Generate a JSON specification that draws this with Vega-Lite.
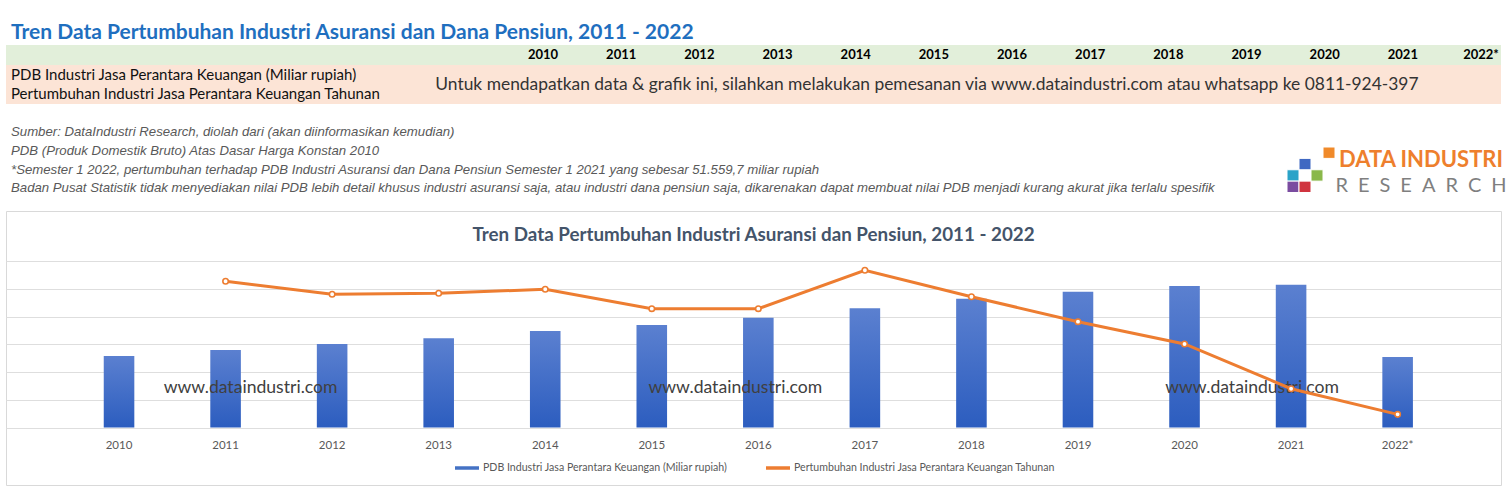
{
  "$schema": "https://vega.github.io/schema/vega-lite/v6.json",
  "padding": {"left": 5, "top": 22, "right": 0, "bottom": 0},
  "background": "#ffffff",
  "config": {"view": {"stroke": null}, "font": "Lato"},
  "datasets": {
    "utama": [
      {"tahun": "2010", "seri": "PDB Industri Jasa Perantara Keuangan (Miliar rupiah)", "nilai": 51600},
      {"tahun": "2011", "seri": "PDB Industri Jasa Perantara Keuangan (Miliar rupiah)", "nilai": 56000},
      {"tahun": "2012", "seri": "PDB Industri Jasa Perantara Keuangan (Miliar rupiah)", "nilai": 60300},
      {"tahun": "2013", "seri": "PDB Industri Jasa Perantara Keuangan (Miliar rupiah)", "nilai": 64400},
      {"tahun": "2014", "seri": "PDB Industri Jasa Perantara Keuangan (Miliar rupiah)", "nilai": 69700},
      {"tahun": "2015", "seri": "PDB Industri Jasa Perantara Keuangan (Miliar rupiah)", "nilai": 74000},
      {"tahun": "2016", "seri": "PDB Industri Jasa Perantara Keuangan (Miliar rupiah)", "nilai": 79300},
      {"tahun": "2017", "seri": "PDB Industri Jasa Perantara Keuangan (Miliar rupiah)", "nilai": 86100},
      {"tahun": "2018", "seri": "PDB Industri Jasa Perantara Keuangan (Miliar rupiah)", "nilai": 93000},
      {"tahun": "2019", "seri": "PDB Industri Jasa Perantara Keuangan (Miliar rupiah)", "nilai": 98100},
      {"tahun": "2020", "seri": "PDB Industri Jasa Perantara Keuangan (Miliar rupiah)", "nilai": 102200},
      {"tahun": "2021", "seri": "PDB Industri Jasa Perantara Keuangan (Miliar rupiah)", "nilai": 103100},
      {"tahun": "2022*", "seri": "PDB Industri Jasa Perantara Keuangan (Miliar rupiah)", "nilai": 50900},
      {"tahun": "2011", "seri": "Pertumbuhan Industri Jasa Perantara Keuangan Tahunan", "nilai": 8.56},
      {"tahun": "2012", "seri": "Pertumbuhan Industri Jasa Perantara Keuangan Tahunan", "nilai": 7.62},
      {"tahun": "2013", "seri": "Pertumbuhan Industri Jasa Perantara Keuangan Tahunan", "nilai": 7.69},
      {"tahun": "2014", "seri": "Pertumbuhan Industri Jasa Perantara Keuangan Tahunan", "nilai": 7.98},
      {"tahun": "2015", "seri": "Pertumbuhan Industri Jasa Perantara Keuangan Tahunan", "nilai": 6.58},
      {"tahun": "2016", "seri": "Pertumbuhan Industri Jasa Perantara Keuangan Tahunan", "nilai": 6.58},
      {"tahun": "2017", "seri": "Pertumbuhan Industri Jasa Perantara Keuangan Tahunan", "nilai": 9.35},
      {"tahun": "2018", "seri": "Pertumbuhan Industri Jasa Perantara Keuangan Tahunan", "nilai": 7.44},
      {"tahun": "2019", "seri": "Pertumbuhan Industri Jasa Perantara Keuangan Tahunan", "nilai": 5.64},
      {"tahun": "2020", "seri": "Pertumbuhan Industri Jasa Perantara Keuangan Tahunan", "nilai": 4.03},
      {"tahun": "2021", "seri": "Pertumbuhan Industri Jasa Perantara Keuangan Tahunan", "nilai": 0.80},
      {"tahun": "2022*", "seri": "Pertumbuhan Industri Jasa Perantara Keuangan Tahunan", "nilai": -1.05}
    ],
    "catatan": [
      {"catatan": "Sumber: DataIndustri Research, diolah dari (akan diinformasikan kemudian)"},
      {"catatan": "PDB (Produk Domestik Bruto) Atas Dasar Harga Konstan 2010"},
      {"catatan": "*Semester 1 2022, pertumbuhan terhadap PDB Industri Asuransi dan Dana Pensiun Semester 1 2021 yang sebesar 51.559,7 miliar rupiah"},
      {"catatan": "Badan Pusat Statistik tidak menyediakan nilai PDB lebih detail khusus industri asuransi saja, atau industri dana pensiun saja, dikarenakan dapat membuat nilai PDB menjadi kurang akurat jika terlalu spesifik"}
    ]
  },
  "bounds": "flush",
  "spacing": 0,
  "resolve": {"scale": {"color": "independent"}, "legend": {"color": "independent"}},
  "vconcat": [
    {
      "width": 1495,
      "height": 20,
      "view": {"fill": "#e2efda", "stroke": null},
      "title": {
        "text": "Tren Data Pertumbuhan Industri Asuransi dan Dana Pensiun, 2011 - 2022",
        "anchor": "start",
        "frame": "group",
        "font": "Lato",
        "fontSize": 21,
        "fontWeight": "bold",
        "color": "#1f6fbf",
        "offset": 2,
        "dx": 5
      },
      "data": {"name": "utama"},
      "transform": [{"filter": "datum.seri == 'PDB Industri Jasa Perantara Keuangan (Miliar rupiah)'"}],
      "mark": {"type": "text", "font": "Lato", "fontSize": 13, "fontWeight": "bold", "color": "#000000"},
      "encoding": {
        "x": {"field": "tahun", "type": "ordinal", "sort": null, "scale": {"type": "point", "range": [537, 1475], "padding": 0}, "axis": null},
        "text": {"field": "tahun"}
      }
    },
    {
      "width": 1495,
      "height": 39,
      "view": {"fill": "#fce4d6", "stroke": null},
      "layer": [
        {
          "data": {"values": [
            {"baris": "PDB Industri Jasa Perantara Keuangan (Miliar rupiah)"},
            {"baris": "Pertumbuhan Industri Jasa Perantara Keuangan Tahunan"}
          ]},
          "mark": {"type": "text", "align": "left", "dx": 5, "font": "Lato", "fontSize": 15, "color": "#111111"},
          "encoding": {
            "x": {"datum": 0, "type": "quantitative", "scale": {"domain": [0, 1]}, "axis": null},
            "y": {"field": "baris", "type": "nominal", "sort": null, "axis": null},
            "text": {"field": "baris"}
          }
        },
        {
          "data": {"values": [
            {"pesan": "Untuk mendapatkan data & grafik ini, silahkan melakukan pemesanan via www.dataindustri.com atau whatsapp ke 0811-924-397"}
          ]},
          "mark": {"type": "text", "font": "Lato", "fontSize": 17.4, "color": "#333333"},
          "encoding": {
            "x": {"datum": 0.616, "type": "quantitative"},
            "text": {"field": "pesan"}
          }
        }
      ]
    },
    {
      "width": 1495,
      "height": 107,
      "resolve": {"scale": {"x": "independent", "y": "independent"}},
      "layer": [
        {
          "data": {"name": "catatan"},
          "mark": {"type": "text", "align": "left", "dx": 5, "font": "Liberation Sans", "fontSize": 13.2, "fontStyle": "italic", "color": "#595959"},
          "encoding": {
            "x": {"datum": 0, "type": "quantitative", "scale": {"domain": [0, 1]}, "axis": null},
            "y": {"field": "catatan", "type": "nominal", "sort": null, "scale": {"type": "point", "range": [28.1, 84.3], "padding": 0}, "axis": null},
            "text": {"field": "catatan"}
          }
        },
        {
          "data": {"values": [
            {"kolom": "c3", "baris": "r0", "warna": "oranye"},
            {"kolom": "c1", "baris": "r1", "warna": "biru"},
            {"kolom": "c0", "baris": "r2", "warna": "tosca"},
            {"kolom": "c2", "baris": "r2", "warna": "hijau"},
            {"kolom": "c0", "baris": "r3", "warna": "ungu"},
            {"kolom": "c1", "baris": "r3", "warna": "merah"}
          ]},
          "mark": {"type": "rect", "stroke": "#ffffff", "strokeWidth": 1},
          "encoding": {
            "x": {"field": "kolom", "type": "nominal", "scale": {"type": "band", "domain": ["c0", "c1", "c2", "c3"], "range": [1281, 1329], "paddingInner": 0, "paddingOuter": 0}, "axis": null},
            "y": {"field": "baris", "type": "nominal", "scale": {"type": "band", "domain": ["r0", "r1", "r2", "r3"], "range": [43, 88.5], "paddingInner": 0, "paddingOuter": 0}, "axis": null},
            "color": {"field": "warna", "type": "nominal", "scale": {"domain": ["oranye", "biru", "tosca", "hijau", "ungu", "merah"], "range": ["#f08a2a", "#3f68c2", "#2aa3c8", "#8ab84a", "#7a4ca0", "#d0343f"]}, "legend": null}
          }
        },
        {
          "data": {"values": [
            {"teks": "DATA INDUSTRI", "peran": "merek"},
            {"teks": "R\u2002E\u2002S\u2002E\u2002A\u2002R\u2002C\u2002H", "peran": "sub"}
          ]},
          "encoding": {
            "x": {"datum": 0.9465, "type": "quantitative", "scale": {"domain": [0, 1]}, "axis": null},
            "y": {"field": "peran", "type": "nominal", "scale": {"type": "point", "domain": ["merek", "sub"], "range": [56, 81.5], "padding": 0}, "axis": null},
            "text": {"field": "teks"}
          },
          "layer": [
            {"transform": [{"filter": "datum.peran == 'merek'"}], "mark": {"type": "text", "font": "Lato", "fontSize": 22, "fontWeight": "bold", "color": "#ee7f2d"}},
            {"transform": [{"filter": "datum.peran == 'sub'"}], "mark": {"type": "text", "font": "Lato", "fontSize": 20, "color": "#7f7f7f"}}
          ]
        }
      ]
    },
    {
      "width": 1495,
      "height": 274,
      "view": {"stroke": "#d9d9d9", "fill": null},
      "title": {
        "text": "Tren Data Pertumbuhan Industri Asuransi dan Pensiun, 2011 - 2022",
        "anchor": "middle",
        "font": "Lato",
        "fontSize": 18.8,
        "fontWeight": "bold",
        "color": "#44546a",
        "offset": -33.5
      },
      "data": {"name": "utama"},
      "resolve": {"scale": {"y": "independent"}},
      "layer": [
        {
          "layer": [
            {
              "transform": [{"filter": "datum.seri == 'PDB Industri Jasa Perantara Keuangan (Miliar rupiah)'"}],
              "mark": {"type": "bar", "color": {"gradient": "linear", "x1": 0, "y1": 0, "x2": 0, "y2": 1, "stops": [{"offset": 0, "color": "#5b80d0"}, {"offset": 1, "color": "#2c5dbf"}]}},
              "encoding": {
                "x": {
                  "field": "tahun", "type": "ordinal", "sort": null,
                  "scale": {"domain": ["2010", "2011", "2012", "2013", "2014", "2015", "2016", "2017", "2018", "2019", "2020", "2021", "2022*"], "paddingInner": 0.713, "paddingOuter": 0.872, "align": 0.526},
                  "axis": {"orient": "bottom", "offset": -46, "domain": false, "ticks": false, "labelPadding": 0, "labelFont": "Lato", "labelFontSize": 11.5, "labelColor": "#595959", "labelAngle": 0, "title": null}
                },
                "y": {
                  "field": "nilai", "type": "quantitative",
                  "scale": {"domain": [-41516, 156318], "nice": false, "zero": false},
                  "axis": {"values": [0, 20000, 40000, 60000, 80000, 100000, 120000], "grid": true, "gridColor": "#dedede", "labels": false, "ticks": false, "domain": false, "title": null}
                },
                "y2": {"datum": 0}
              }
            },
            {
              "data": {"values": [{"teks": "www.dataindustri.com"}]},
              "mark": {"type": "text", "font": "Lato", "fontSize": 17.6, "color": "#404040", "dx": 25},
              "encoding": {"x": {"datum": "2011"}, "y": {"datum": 28500}, "text": {"field": "teks"}}
            },
            {
              "data": {"values": [{"teks": "www.dataindustri.com"}]},
              "mark": {"type": "text", "font": "Lato", "fontSize": 17.6, "color": "#404040", "dx": -23},
              "encoding": {"x": {"datum": "2016"}, "y": {"datum": 28500}, "text": {"field": "teks"}}
            },
            {
              "data": {"values": [{"teks": "www.dataindustri.com"}]},
              "mark": {"type": "text", "font": "Lato", "fontSize": 17.6, "color": "#404040", "dx": -39},
              "encoding": {"x": {"datum": "2021"}, "y": {"datum": 28500}, "text": {"field": "teks"}}
            }
          ]
        },
        {
          "transform": [{"filter": "datum.seri == 'Pertumbuhan Industri Jasa Perantara Keuangan Tahunan'"}],
          "encoding": {
            "x": {"field": "tahun", "type": "ordinal", "sort": null},
            "y": {"field": "nilai", "type": "quantitative", "scale": {"domain": [-6.152, 13.632], "nice": false, "zero": false}, "axis": null}
          },
          "layer": [
            {
              "mark": {"type": "line", "strokeWidth": 3},
              "encoding": {
                "color": {
                  "field": "seri", "type": "nominal",
                  "scale": {"domain": ["PDB Industri Jasa Perantara Keuangan (Miliar rupiah)", "Pertumbuhan Industri Jasa Perantara Keuangan Tahunan"], "range": ["#4472c4", "#ed7d31"]},
                  "legend": {"orient": "none", "legendX": 447, "legendY": 243, "direction": "horizontal", "title": null, "labelFont": "Lato", "labelFontSize": 10.6, "labelColor": "#595959", "symbolType": "M-1,0H1", "symbolSize": 576, "symbolStrokeWidth": 3.5, "columnPadding": 31, "labelOffset": 2, "labelLimit": 400}
                }
              }
            },
            {
              "mark": {"type": "point", "shape": "circle", "filled": true, "fill": "#ffffff", "stroke": "#ed7d31", "strokeWidth": 1.6, "size": 30, "opacity": 1}
            }
          ]
        }
      ]
    }
  ]
}
